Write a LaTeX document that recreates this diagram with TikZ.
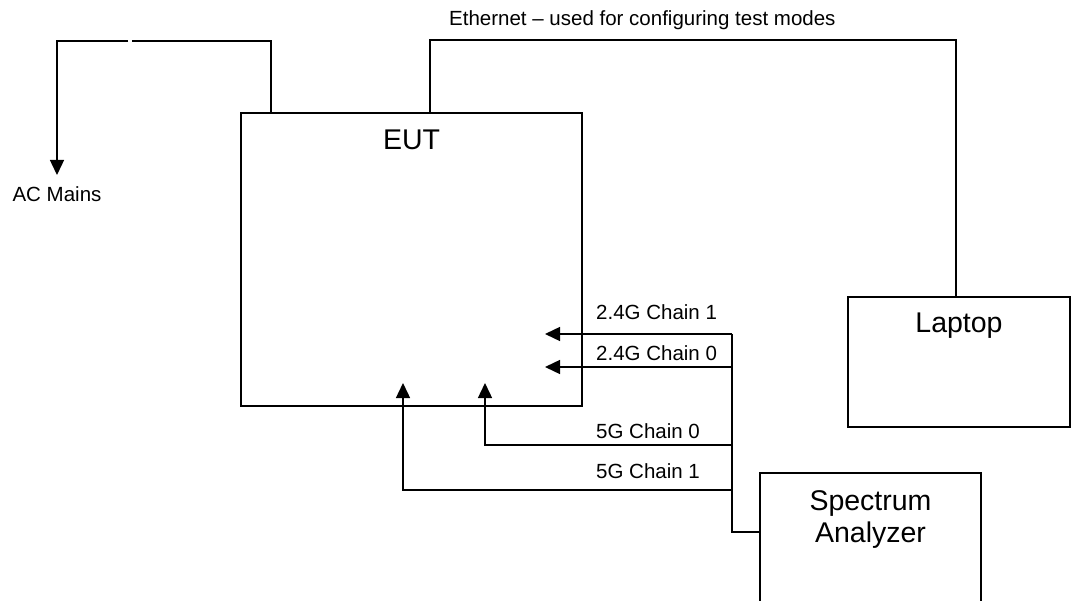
\documentclass[tikz,border=0pt]{standalone}
\usepackage{fontspec}
\setsansfont{Liberation Sans}
\usetikzlibrary{arrows.meta, positioning}

\begin{document}
\begin{tikzpicture}[
    x=1pt, y=-1pt,
    font=\sffamily,
    unit/.style={draw=black, line width=1.4pt, inner sep=0pt},
    unit_name/.style={font=\sffamily\fontsize{28.5}{32}\selectfont, inner sep=0pt, align=center},
    wire_label/.style={font=\sffamily\fontsize{20.5}{24}\selectfont, inner sep=0pt, anchor=base west},
    cable/.style={draw=black, line width=1.4pt},
    feed/.style={cable, -{Triangle[length=15pt, width=14pt]}}
]
\useasboundingbox (0,0) rectangle (1073,601);
\clip (0,0) rectangle (1073,601);

% BOXES
\node[unit, minimum width=341pt, minimum height=293pt] (eut) at (411.5,259.5) {};
\node[unit, minimum width=222pt, minimum height=130pt] (laptop) at (959,362) {};
\node[unit, minimum width=221pt, minimum height=180pt] (analyzer) at (870.5,563) {};
\node[unit_name, below=17pt of eut.north] (eut_name) {EUT};
\node[unit_name, below=16pt of laptop.north] (laptop_name) {Laptop};
\node[unit_name, below=18pt of analyzer.north] (analyzer_name) {Spectrum\\Analyzer};

% AC MAINS
\node[wire_label, anchor=north] (mains) at (57,186) {AC Mains};
\coordinate (mains_top) at (271,41);
\coordinate (mains_gap_r) at (132,41);
\coordinate (mains_gap_l) at (128,41);
\draw[cable] (eut.north -| mains_top) -- (mains_top) -- (mains_gap_r);
\draw[feed] (mains_gap_l) -| ([yshift=11pt]mains.north);

% ETHERNET
\coordinate (eth_l) at (430,40);
\coordinate (eth_r) at (956,40);
\draw[cable] (eut.north -| eth_l) -- (eth_l) -- (eth_r) -- (laptop.north -| eth_r);
\node[wire_label] (eth_label) at (449,26) {Ethernet – used for configuring test modes};

% CHAINS
\coordinate (hub) at (732,334);
\coordinate (hub_foot) at (732,532);
\draw[cable] (hub) -- (hub_foot) -- (analyzer.west |- hub_foot);

\coordinate (g24_1) at (545,334);
\coordinate (g24_0) at (545,367);
\coordinate (g5_0_bend) at (485,445);
\coordinate (g5_0) at (485,383);
\coordinate (g5_1_bend) at (403,490);
\coordinate (g5_1) at (403,383);
\draw[feed] (hub) -- (g24_1);
\draw[feed] (hub |- g24_0) -- (g24_0);
\draw[feed] (hub |- g5_0_bend) -- (g5_0_bend) -- (g5_0);
\draw[feed] (hub |- g5_1_bend) -- (g5_1_bend) -- (g5_1);

\node[wire_label] (g24_1_label) at (596,320) {2.4G Chain 1};
\node[wire_label] (g24_0_label) at (596,360) {2.4G Chain 0};
\node[wire_label] (g5_0_label) at (596,438) {5G Chain 0};
\node[wire_label] (g5_1_label) at (596,478) {5G Chain 1};

\end{tikzpicture}
\end{document}
